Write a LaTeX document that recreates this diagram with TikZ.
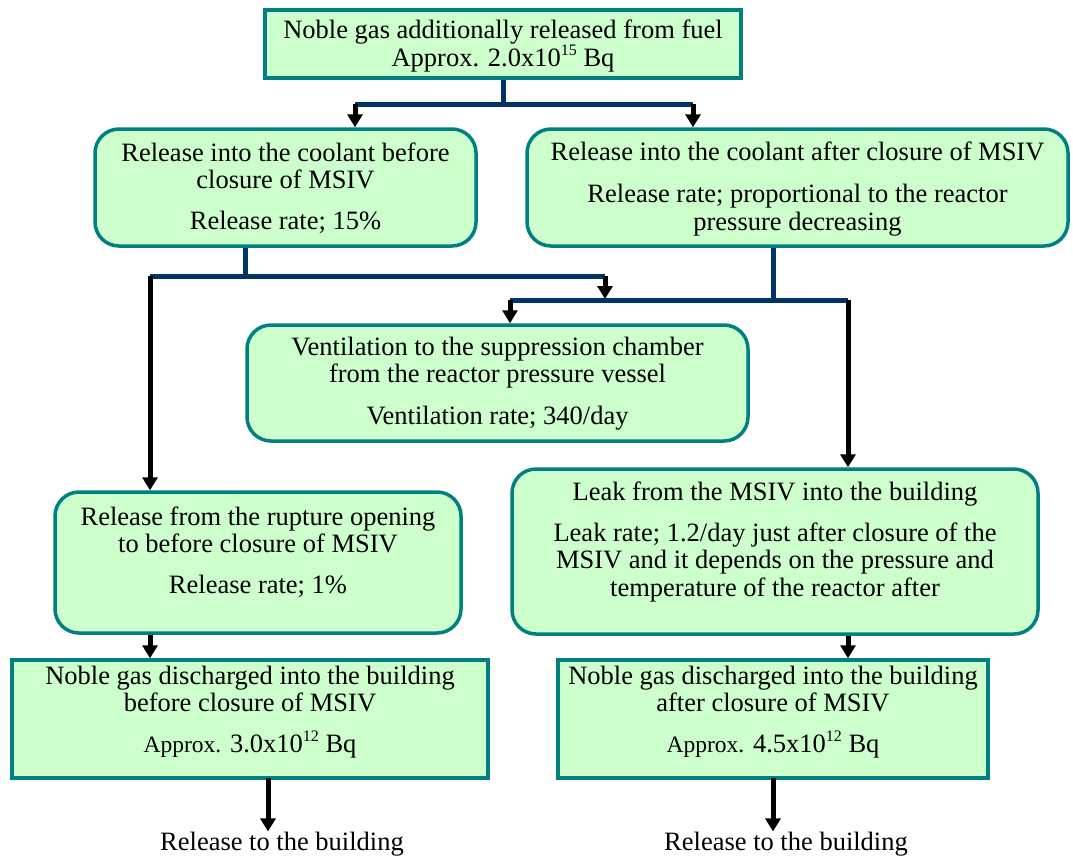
\documentclass[tikz,border=0pt]{standalone}
\usepackage{fontspec}
\setmainfont{Liberation Serif}
\usetikzlibrary{arrows.meta}
\definecolor{boxfill}{HTML}{CCFFCC}
\definecolor{boxline}{HTML}{008080}
\definecolor{busline}{HTML}{003366}
\newcommand{\parskipgap}{\\[13pt]}
\newcommand{\expo}[1]{\raisebox{0.42em}{\fontsize{16}{16}\selectfont #1}}
\newcommand{\approxlabel}{{\fontsize{23.5}{27.5}\selectfont Approx.}}
\begin{document}
\begin{tikzpicture}[x=1pt,y=-1pt,
  sbox/.style={draw=boxline, fill=boxfill, line width=3.5pt, inner sep=0pt},
  rbox/.style={sbox, rounded corners=24pt},
  txt/.style={align=center, inner sep=0pt, font=\fontsize{26.5}{27.5}\selectfont},
  bus/.style={draw=busline, line width=5pt},
  feed/.style={draw=black, line width=5pt, -{Triangle[width=15pt,length=13pt]}},
]
\useasboundingbox (0,0) rectangle (1073,857);

% boxes
\node[sbox, minimum width=476pt, minimum height=68pt]  (fuel)  at (503,44) {};
\node[rbox, minimum width=381pt, minimum height=117pt] (cool1) at (285.5,187.5) {};
\node[rbox, minimum width=541pt, minimum height=117pt] (cool2) at (797.5,187.5) {};
\node[rbox, minimum width=501pt, minimum height=116pt] (vent)  at (497.5,383) {};
\node[rbox, minimum width=406pt, minimum height=141pt] (rupt)  at (258,562.5) {};
\node[rbox, minimum width=526pt, minimum height=165pt] (leak)  at (775,551.5) {};
\node[sbox, minimum width=476pt, minimum height=118pt] (disc1) at (250,719) {};
\node[sbox, minimum width=430pt, minimum height=118pt] (disc2) at (773,719) {};

% box texts
\node[txt] (fuelT) at (503,46) {Noble gas additionally released from fuel\\Approx. 2.0x10\expo{15} Bq};
\node[txt] (cool1T) at (285.5,188) {Release into the coolant before\\closure of MSIV\parskipgap Release rate; 15\%};
\node[txt] (cool2T) at (797.5,189) {Release into the coolant after closure of MSIV\\[15pt]Release rate; proportional to the reactor\\pressure decreasing};
\node[txt] (ventT) at (497.5,383.5) {Ventilation to the suppression chamber\\from the reactor pressure vessel\\[14pt]Ventilation rate; 340/day};
\node[txt] (ruptT) at (258,552) {Release from the rupture opening\\to before closure of MSIV\parskipgap Release rate; 1\%};
\node[txt] (leakT) at (775,542) {Leak from the MSIV into the building\parskipgap Leak rate; 1.2/day just after closure of the\\MSIV and it depends on the pressure and\\temperature of the reactor after};
\node[txt] (disc1T) at (250,712) {Noble gas discharged into the building\\before closure of MSIV\parskipgap \approxlabel{} 3.0x10\expo{12} Bq};
\node[txt] (disc2T) at (773,712) {Noble gas discharged into the building\\after closure of MSIV\parskipgap \approxlabel{} 4.5x10\expo{12} Bq};

% final destinations
\node[txt, anchor=base] (out1) at (282,850) {Release to the building};
\node[txt, anchor=base] (out2) at (786,850) {Release to the building};

% branch points
\coordinate (j1L) at (355,104);
\coordinate (j1R) at (693,104);
\coordinate (j2L) at (150,276);
\coordinate (j2R) at (605,276);
\coordinate (j2S) at (245,276);
\coordinate (j3L) at (510,300);
\coordinate (j3R) at (848,300);
\coordinate (j3S) at (773,300);

% fuel -> both coolant boxes
\draw[bus] (fuel.south) -- (fuel.south |- j1L);
\draw[bus] (j1L) -- (j1R);
\draw[feed] (j1L) -- (j1L |- cool1.north);
\draw[feed] (j1R) -- (j1R |- cool2.north);

% coolant before closure -> rupture opening, ventilation
\draw[bus] (j2S |- cool1.south) -- (j2S);
\draw[bus] (j2L) -- (j2R);
\draw[feed] (j2L) -- (j2L |- rupt.north);
\draw[feed] (j2R) -- ++(0,23);

% coolant after closure -> ventilation, MSIV leak
\draw[bus] (j3S |- cool2.south) -- (j3S);
\draw[bus] (j3L) -- (j3R);
\draw[feed] (j3L) -- (j3L |- vent.north);
\draw[feed] (j3R) -- (j3R |- leak.north);

% into the discharge boxes
\draw[feed] (j2L |- rupt.south) -- (j2L |- disc1.north);
\draw[feed] (j3R |- leak.south) -- (j3R |- disc2.north);

% out to the building
\draw[feed] (268,778) coordinate (o1) -- (o1 |- out1.north);
\draw[feed] (773,778) coordinate (o2) -- (o2 |- out2.north);
\end{tikzpicture}
\end{document}
